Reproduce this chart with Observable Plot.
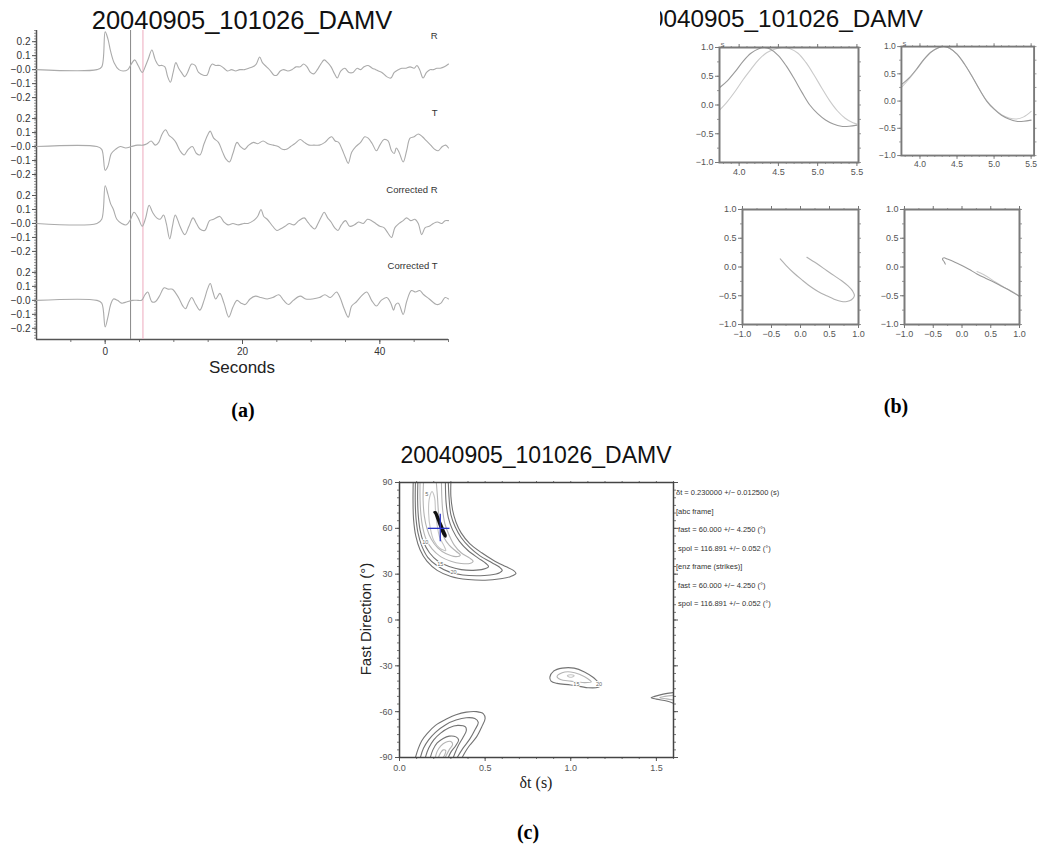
<!DOCTYPE html>
<html><head><meta charset="utf-8">
<script src="https://cdn.jsdelivr.net/npm/d3@7"></script>
<script src="https://cdn.jsdelivr.net/npm/@observablehq/plot@0.6"></script>
<style>
html,body{margin:0;padding:0;background:#fff;}
body{width:1045px;height:849px;overflow:hidden;position:relative;font-family:"Liberation Sans",Arial,sans-serif;}
.abs{position:absolute;}
.title{position:absolute;white-space:nowrap;color:#111;line-height:1;font-family:"Liberation Sans",Arial,sans-serif;}
.plabel{position:absolute;font-family:"Liberation Serif","Times New Roman",serif;font-weight:bold;font-size:20px;line-height:1;transform:translate(-50%,-50%);color:#000;}
.stat{position:absolute;font-size:7.5px;color:#333;white-space:pre;line-height:1;}
</style></head><body>
<script>
// ---------------- DATA ----------------
const stationTitle = "20040905_101026_DAMV";
const traceNames = ["R", "T", "Corrected R", "Corrected T"];
const ampTickValues = [-0.2, -0.1, 0, 0.1, 0.2];
const ampTickLabels = ["−0.2", "−0.1", "−0.0", "0.1", "0.2"];
const secondsTicks = [0, 20, 40];
const pickTimes = [3.7, 5.5];

const traceR = [[-10,0],[-1.2,0],[-0.5,0.02],[0,0.27],[0.4,0.22],[0.8,0.13],[1.3,0.05],[2.0,0.0],[2.6,-0.01],[3.3,0.0],[3.8,0.04],[4.3,0.07],[4.8,0.03],[5.4,-0.02],[5.9,0.03],[6.3,0.08],[6.8,0.14],[7.3,0.07],[7.8,0.03],[8.3,0.03],[8.7,0.02],[9.1,-0.05],[9.5,-0.09],[9.9,-0.02],[10.3,0.05],[10.7,0.01],[11.1,-0.02],[11.6,-0.05],[12.0,-0.02],[12.6,0.04],[13.1,0.03],[13.6,-0.02],[14.3,-0.04],[14.8,-0.04],[15.3,0.02],[15.6,0.04],[16.1,0.03],[16.7,0.03],[17.3,0.01],[17.8,-0.01],[18.4,0.0],[19.0,-0.01],[19.6,0.0],[20.3,0.0],[20.9,0.01],[21.5,0.02],[22.0,0.04],[22.5,0.09],[22.9,0.05],[23.5,0.02],[24.1,-0.01],[24.6,-0.04],[25.0,-0.04],[25.5,-0.01],[26.0,0.0],[26.6,-0.01],[27.2,0.0],[27.8,0.02],[28.4,0.02],[28.9,0.04],[29.4,0.02],[29.9,-0.02],[30.4,-0.03],[30.9,0.0],[31.4,0.04],[31.9,0.07],[32.4,0.05],[32.9,0.02],[33.4,-0.03],[33.8,-0.06],[34.3,-0.01],[34.9,0.01],[35.5,-0.02],[36.1,-0.02],[36.7,0.01],[37.2,0.0],[37.7,0.02],[38.3,0.03],[38.9,0.01],[39.4,0.0],[39.8,-0.01],[40.3,-0.02],[41.0,-0.05],[41.6,-0.06],[42.1,-0.02],[42.7,0.0],[43.2,0.01],[43.8,0.01],[44.4,0.02],[45.0,0.01],[45.4,0.03],[45.8,0.0],[46.3,-0.06],[46.8,-0.02],[47.3,0.0],[47.8,0.0],[48.3,0.01],[48.8,0.01],[49.4,0.02],[50,0.04]];
const traceT = [[-10,0],[-1.2,0],[-0.5,-0.02],[0,-0.17],[0.4,-0.14],[0.9,-0.05],[1.5,-0.02],[2.2,0],[3,-0.01],[3.8,0],[4.7,0.01],[5.5,0.01],[6.1,0.02],[6.7,0.04],[7.3,0.01],[7.8,0.03],[8.3,0.09],[8.8,0.12],[9.3,0.08],[9.8,0.06],[10.3,0.03],[10.9,-0.03],[11.5,-0.06],[12.1,-0.02],[12.7,0.0],[13.3,-0.05],[13.8,-0.06],[14.4,0.02],[15.0,0.09],[15.3,0.11],[15.8,0.06],[16.5,0.03],[17.1,-0.04],[17.6,-0.09],[18.1,-0.11],[18.6,-0.05],[19.2,0.03],[19.7,0.0],[20.3,-0.02],[20.9,0.01],[21.6,0.03],[22.2,0.02],[23.0,0.04],[23.7,0.02],[24.5,0.01],[25.2,0.0],[25.8,-0.02],[26.4,-0.02],[27.0,0.0],[27.6,0.02],[28.4,0.05],[29.0,0.03],[29.7,0.01],[30.4,0.01],[31.2,0.01],[32.0,0.03],[32.6,0.06],[33.0,0.07],[33.5,0.04],[34.0,0.03],[34.5,-0.02],[35.0,-0.08],[35.4,-0.12],[35.9,-0.04],[36.5,0.0],[37.2,0.03],[37.8,0.07],[38.3,0.06],[38.9,0.02],[39.5,-0.03],[40.0,0.01],[40.6,0.05],[41.2,0.04],[41.7,-0.03],[42.1,-0.05],[42.4,-0.01],[42.8,-0.04],[43.4,-0.11],[43.9,-0.03],[44.4,0.06],[45.0,0.07],[45.6,0.09],[46.2,0.07],[46.8,0.04],[47.4,0.01],[48.0,-0.02],[48.5,-0.03],[49.1,0.0],[49.6,0.01],[50,-0.01]];
const traceCorrR = [[-10,0],[-1.2,0],[-0.5,0.03],[0,0.27],[0.4,0.21],[0.8,0.14],[1.2,0.1],[1.7,0.03],[2.4,0.0],[3.1,-0.01],[3.7,0.03],[4.2,0.08],[4.8,0.04],[5.4,-0.02],[5.9,0.04],[6.4,0.13],[6.9,0.08],[7.5,0.04],[8.0,0.03],[8.5,0.06],[8.9,0.0],[9.4,-0.11],[9.8,-0.02],[10.2,0.06],[10.6,0.02],[10.9,-0.02],[11.6,-0.08],[12.2,-0.02],[12.8,0.04],[13.3,0.0],[13.8,-0.04],[14.5,-0.05],[15.2,0.02],[15.8,0.03],[16.7,0.05],[17.3,0.01],[17.9,-0.01],[18.6,0.0],[19.4,-0.01],[20.2,0.0],[20.8,0.0],[21.6,0.02],[22.2,0.05],[22.7,0.10],[23.1,0.05],[23.6,0.03],[24.4,-0.02],[25.0,-0.05],[25.5,-0.04],[26.2,-0.02],[26.8,0.0],[27.5,-0.01],[28.2,0.02],[29.0,0.04],[29.5,0.01],[30.0,-0.02],[30.5,-0.04],[31.0,0.0],[31.5,0.05],[31.9,0.08],[32.4,0.04],[32.9,0.01],[33.4,-0.03],[33.9,-0.05],[34.4,-0.01],[35.0,0.02],[35.6,-0.02],[36.3,-0.01],[36.9,0.01],[37.6,0.0],[38.2,0.03],[38.8,0.02],[39.4,0.0],[40.0,-0.02],[40.6,-0.03],[41.2,-0.07],[41.7,-0.10],[42.2,-0.03],[42.8,0.0],[43.4,0.02],[43.9,0.04],[44.5,0.02],[45.1,0.03],[45.6,0.0],[46.1,-0.08],[46.6,-0.03],[47.2,-0.02],[47.8,0.0],[48.4,0.01],[49.0,0.0],[49.5,0.02],[50,0.02]];
const traceCorrT = [[-10,0],[-1.2,0],[-0.5,-0.02],[0,-0.19],[0.4,-0.12],[0.8,-0.03],[1.2,0.01],[1.8,0.0],[2.4,-0.02],[3.2,-0.01],[4.0,0.0],[4.8,0.0],[5.3,0.0],[5.8,0.04],[6.2,0.06],[6.8,-0.01],[7.3,-0.01],[7.9,0.03],[8.6,0.09],[9.2,0.08],[9.8,0.08],[10.3,0.05],[10.8,0.01],[11.3,-0.04],[11.7,-0.06],[12.2,-0.01],[12.6,0.02],[13.2,-0.03],[13.8,-0.07],[14.4,0.0],[14.9,0.08],[15.3,0.12],[15.7,0.06],[16.1,0.01],[16.7,0.05],[17.3,-0.02],[18.0,-0.12],[18.6,-0.05],[19.2,0.0],[19.8,-0.02],[20.4,-0.03],[21.1,0.01],[21.9,0.03],[22.7,0.02],[23.6,0.01],[24.4,0.02],[25.3,0.04],[26.0,0.0],[26.7,-0.03],[27.4,0.0],[28.4,0.03],[29.2,0.01],[30.2,0.01],[31.2,0.02],[32.0,0.04],[32.8,0.02],[33.7,0.06],[34.2,0.02],[34.8,-0.06],[35.4,-0.12],[35.9,-0.04],[36.6,-0.01],[37.3,0.03],[38.1,0.06],[38.8,0.0],[39.5,-0.04],[40.2,0.0],[41.0,0.02],[41.6,-0.02],[42.0,-0.07],[42.3,-0.03],[42.7,-0.02],[43.4,-0.1],[43.9,-0.01],[44.6,0.07],[45.2,0.06],[45.8,0.07],[46.4,0.04],[47.2,0.01],[48.3,-0.03],[48.9,-0.02],[49.5,0.02],[50,0.01]];

// panel (b) waveforms (time s, normalised amplitude)
const waveFastTL = [[3.75,0.30],[3.85,0.42],[3.95,0.58],[4.05,0.76],[4.15,0.90],[4.25,0.98],[4.32,1.0],[4.4,0.97],[4.5,0.86],[4.6,0.68],[4.7,0.46],[4.8,0.22],[4.9,0.0],[5.0,-0.15],[5.1,-0.26],[5.2,-0.33],[5.3,-0.37],[5.4,-0.37],[5.5,-0.35]];
const waveSlowTL = [[3.75,-0.09],[3.85,0.06],[3.95,0.24],[4.05,0.44],[4.15,0.62],[4.25,0.79],[4.35,0.91],[4.45,0.97],[4.55,1.0],[4.65,0.98],[4.75,0.90],[4.85,0.74],[4.95,0.53],[5.05,0.30],[5.15,0.08],[5.25,-0.10],[5.35,-0.23],[5.45,-0.31],[5.5,-0.33]];
const waveFastTR = [[3.75,0.30],[3.85,0.42],[3.95,0.58],[4.05,0.76],[4.15,0.90],[4.25,0.98],[4.32,1.0],[4.4,0.97],[4.5,0.86],[4.6,0.68],[4.7,0.46],[4.8,0.22],[4.9,0.0],[5.0,-0.15],[5.1,-0.26],[5.2,-0.33],[5.3,-0.37],[5.4,-0.37],[5.5,-0.35]];
const waveSlowTR = [[3.75,0.25],[3.85,0.40],[3.95,0.57],[4.05,0.75],[4.15,0.90],[4.25,0.98],[4.33,1.0],[4.4,0.97],[4.5,0.86],[4.6,0.68],[4.7,0.46],[4.8,0.22],[4.9,0.01],[5.0,-0.14],[5.1,-0.25],[5.2,-0.31],[5.3,-0.33],[5.4,-0.29],[5.5,-0.19]];
// particle motion (x, y)
const motionBefore = [[-0.35,0.14],[-0.25,0.03],[-0.12,-0.1],[0.02,-0.22],[0.17,-0.34],[0.31,-0.43],[0.45,-0.5],[0.58,-0.56],[0.71,-0.6],[0.80,-0.6],[0.88,-0.57],[0.93,-0.5],[0.90,-0.42],[0.82,-0.33],[0.71,-0.24],[0.58,-0.15],[0.45,-0.06],[0.28,0.06],[0.11,0.17]];
const motionAfterA = [[-0.29,0.05],[-0.31,0.09],[-0.34,0.14],[-0.31,0.16],[-0.26,0.14],[-0.14,0.09],[-0.03,0.04],[0.12,-0.04],[0.26,-0.12],[0.40,-0.19],[0.55,-0.26],[0.70,-0.34],[0.85,-0.42],[1.0,-0.51]];
const motionAfterB = [[1.0,-0.51],[0.88,-0.43],[0.73,-0.35],[0.58,-0.26],[0.44,-0.17],[0.33,-0.11],[0.26,-0.08]];
const bTimeTicks = [4.0, 4.5, 5.0, 5.5];
const bAmpTicks = [-1.0, -0.5, 0.0, 0.5, 1.0];
const pmTicks = [-1.0, -0.5, 0.0, 0.5, 1.0];

// panel (c) grid search contours (δt s, fast direction °)
const contourA1 = [[0.080,90],[0.079,78],[0.082,66],[0.095,55],[0.12,46],[0.16,38.5],[0.22,32.5],[0.30,28.5],[0.40,26.5],[0.50,26],[0.59,27],[0.65,28.5],[0.68,30.5],[0.665,32.5],[0.62,35],[0.55,39],[0.48,44],[0.41,50],[0.36,57],[0.33,64],[0.31,72],[0.30,81],[0.30,90]];
const contourA2 = [[0.093,90],[0.092,78],[0.096,67],[0.108,57],[0.13,48.5],[0.165,41],[0.22,35.5],[0.29,31.5],[0.37,29.5],[0.45,29],[0.53,29.5],[0.585,31],[0.60,32.5],[0.585,34.5],[0.54,37.5],[0.47,42],[0.41,47.5],[0.36,54],[0.325,61],[0.30,69],[0.29,79],[0.285,90]];
const contourA3 = [[0.107,90],[0.106,78],[0.11,68],[0.12,59],[0.14,51],[0.175,44],[0.225,38.5],[0.29,35],[0.36,33],[0.43,32.5],[0.49,33.3],[0.52,35],[0.505,37],[0.46,40.5],[0.40,45.5],[0.35,51.5],[0.31,59],[0.285,67],[0.272,77],[0.268,90]];
const contourA4 = [[0.12,90],[0.12,79],[0.125,69],[0.135,61],[0.155,53],[0.19,46.5],[0.24,41.5],[0.30,38.5],[0.36,37],[0.41,37],[0.43,38.5],[0.41,40.5],[0.36,44],[0.32,49],[0.29,55.5],[0.265,63],[0.252,72],[0.247,81],[0.245,90]];
const contourA5 = [[0.14,90],[0.138,78],[0.145,68],[0.16,60],[0.185,53],[0.225,47],[0.27,43.5],[0.33,41.5],[0.355,42.5],[0.33,45],[0.29,49],[0.26,54],[0.24,61],[0.228,70],[0.222,80],[0.215,90]];
const contourA6 = [[0.175,80],[0.17,70],[0.18,60],[0.20,52],[0.235,47],[0.27,45.5],[0.26,48.5],[0.235,54],[0.22,62],[0.21,72],[0.205,80],[0.19,84]];
const contourB1 = [[0.093,-90],[0.11,-84],[0.13,-79],[0.16,-74.5],[0.21,-69],[0.277,-64.7],[0.33,-62],[0.39,-60.3],[0.45,-60],[0.49,-61.4],[0.50,-64.5],[0.48,-70],[0.45,-76.5],[0.41,-82],[0.39,-85.3],[0.366,-90]];
const contourB2 = [[0.122,-90],[0.14,-84],[0.17,-78.5],[0.21,-73.5],[0.27,-68.5],[0.33,-65.5],[0.39,-64],[0.44,-64.5],[0.46,-67],[0.44,-72],[0.41,-78],[0.37,-84],[0.337,-90]];
const contourB3 = [[0.151,-90],[0.17,-84],[0.20,-78.5],[0.24,-74],[0.29,-70.5],[0.34,-69],[0.385,-70],[0.39,-72.5],[0.37,-77],[0.34,-83],[0.314,-90]];
const contourB4 = [[0.18,-90],[0.195,-85],[0.22,-80.5],[0.255,-77.5],[0.29,-76],[0.33,-76.5],[0.345,-78.5],[0.33,-82],[0.30,-86.5],[0.285,-90]];
const contourB5 = [[0.209,-90],[0.22,-86],[0.24,-82.5],[0.27,-80],[0.30,-79.5],[0.31,-81.5],[0.29,-85],[0.267,-90]];
const contourB6 = [[0.227,-90],[0.24,-87],[0.255,-85],[0.27,-85.5],[0.265,-88],[0.255,-90]];
const contourC1 = [[0.878,-37.4],[0.9,-33.5],[0.95,-31.5],[1.02,-31.5],[1.08,-34],[1.13,-37.5],[1.16,-40.5],[1.18,-42],[1.16,-44],[1.1,-44.3],[1.0,-42.5],[0.92,-41.5],[0.885,-40]];
const contourC2 = [[0.92,-37],[0.95,-34.5],[1.0,-34],[1.05,-35.5],[1.1,-38.5],[1.12,-40.5],[1.08,-41],[1.0,-40],[0.94,-39]];
const contourC3 = [[0.98,-36.5],[1.0,-35.8],[1.02,-36.5],[1.0,-37.5]];
const contourD1 = [[1.6,-47.5],[1.54,-48.5],[1.49,-50],[1.47,-50.8],[1.5,-51.8],[1.56,-53],[1.6,-54.5]];
const contourD2 = [[1.6,-49.3],[1.55,-50],[1.52,-50.8],[1.56,-51.6],[1.6,-52.3]];
const confidenceRegion = [[0.203,70.5],[0.209,69.8],[0.222,66],[0.24,60.5],[0.255,56.5],[0.267,54.5],[0.27,55.5],[0.26,58],[0.245,62],[0.228,66.5],[0.212,70.5]];
const bestDt = 0.238, bestFast = 60;
const crossDt = [0.165, 0.292];
const crossFast = [51.6, 69.5];
const contourLabelText = ["20", "15", "10", "5", "15", "20"];
const contourLabelDt = [0.316, 0.238, 0.151, 0.16, 1.033, 1.165];
const contourLabelFast = [31.3, 36.8, 50.9, 82, -42.3, -41.8];
const fastTicks = [-90, -60, -30, 0, 30, 60, 90];
const dtTicks = [0.0, 0.5, 1.0, 1.5];
const statsLines = ["δt = 0.230000 +/− 0.012500 (s)", "[abc frame]", " fast = 60.000 +/− 4.250 (°)", " spol = 116.891 +/− 0.052 (°)", "[enz frame (strikes)]", " fast = 60.000 +/− 4.250 (°)", " spol = 116.891 +/− 0.052 (°)"];

// ---------------- LAYOUT / DRAW ----------------
const FONT = "Liberation Sans, Arial, Helvetica, sans-serif";
function place(el, left, top) {
  const d = document.createElement("div");
  d.className = "abs"; d.style.left = left + "px"; d.style.top = top + "px";
  d.appendChild(el); document.body.appendChild(d); return d;
}
function htmlText(txt, cls, left, top, extra) {
  const d = document.createElement("div");
  d.className = cls; d.textContent = txt;
  d.style.left = left + "px"; d.style.top = top + "px";
  Object.assign(d.style, extra || {});
  document.body.appendChild(d); return d;
}
const blank = () => "";
const openCurve = c => (Math.abs(c[0][1]) >= 90 || c[0][0] >= 1.6) ? "catmull-rom" : "catmull-rom-closed";

// ---- panel (a)
const traceOffsets = [0, -0.55, -1.10, -1.65];
const traces = [traceR, traceT, traceCorrR, traceCorrT];
const yMajor = [], yMap = new Map();
traceOffsets.forEach(o => ampTickValues.forEach((v, i) => {
  const p = +(o + v).toFixed(4); yMajor.push(p); yMap.set(p.toFixed(3), ampTickLabels[i]);
}));
const yA = [-1.93, 0.28];
const chartA = Plot.plot({
  width: 460, height: 380, marginLeft: 36, marginRight: 12, marginTop: 30, marginBottom: 41,
  style: {fontFamily: FONT, fontSize: "10px", color: "#333", background: "transparent", overflow: "visible"},
  x: {domain: [-10, 50]},
  y: {domain: yA},
  marks: [
    Plot.axisY(d3.range(-1.92, 0.281, 0.02), {tickSize: 2, tickFormat: blank, label: null, stroke: "#999"}),
    Plot.axisY(yMajor, {tickSize: 4, tickPadding: 2, tickFormat: d => yMap.get(d.toFixed(3)), label: null, stroke: "#555"}),
    Plot.axisX(d3.range(-5, 50.1, 5), {tickSize: 3, tickFormat: blank, label: null, stroke: "#777"}),
    Plot.axisX(secondsTicks, {tickSize: 5, tickPadding: 3, label: null, stroke: "#555"}),
    Plot.ruleX([-10], {stroke: "#555", strokeWidth: 1.5}),
    Plot.ruleY([yA[0]], {stroke: "#555", strokeWidth: 1.5}),
    Plot.ruleX([pickTimes[0]], {stroke: "#888", strokeWidth: 1}),
    Plot.ruleX([pickTimes[1]], {stroke: "#f0b8c8", strokeWidth: 1.2}),
    ...traces.map((tr, i) => Plot.line(tr, {x: d => d[0], y: d => d[1] + traceOffsets[i], stroke: "#ababab", strokeWidth: 1.1, curve: "catmull-rom"})),
    Plot.text(traceNames, {x: 48.4, y: (d, i) => traceOffsets[i] + 0.243, text: d => d, textAnchor: "end", fontSize: 9.5, fill: "#333"})
  ]
});
place(chartA, 0, 0);
htmlText(stationTitle, "title", 0, 8.4, {fontSize: "25.5px", width: "484px", textAlign: "center"});
htmlText("Seconds", "title", 0, 359, {fontSize: "17px", width: "484px", textAlign: "center", color: "#222"});
htmlText("(a)", "plabel", 243, 410);

// ---- panel (b)
function smallPanel(o) {
  const w = o.ml + o.w + 12, h = o.mt + o.h + 22;
  return Plot.plot({
    width: w, height: h, marginLeft: o.ml, marginRight: 12, marginTop: o.mt, marginBottom: 22,
    style: {fontFamily: FONT, fontSize: "9px", color: "#555", background: "transparent", overflow: "visible"},
    x: {domain: o.xDomain}, y: {domain: [-1, 1]},
    marks: [
      Plot.axisX(o.xMinor, {tickSize: 2, tickFormat: blank, label: null, stroke: "#999"}),
      Plot.axisX(o.xMinor, {anchor: "top", tickSize: 2, tickFormat: blank, label: null, stroke: "#999"}),
      Plot.axisX(o.xMajor, {tickSize: 4, tickPadding: 2, tickFormat: d3.format(".1f"), label: null, stroke: "#777"}),
      Plot.axisX(o.xMajor, {anchor: "top", tickSize: 4, tickFormat: blank, label: null, stroke: "#777"}),
      Plot.axisY(d3.range(-1, 1.001, 0.25), {tickSize: 2, tickFormat: blank, label: null, stroke: "#999"}),
      Plot.axisY(d3.range(-1, 1.001, 0.25), {anchor: "right", tickSize: 2, tickFormat: blank, label: null, stroke: "#999"}),
      Plot.axisY(bAmpTicks, {tickSize: 4, tickPadding: 2, tickFormat: d3.format(".1f"), label: null, stroke: "#777"}),
      ...o.series.map(s => Plot.line(s.data, {x: d => d[0], y: d => d[1], stroke: s.color, strokeWidth: 1.1, curve: "catmull-rom", clip: true})),
      Plot.frame({stroke: "#7a7a7a", strokeWidth: 2}),
      ...(o.sLabel ? [Plot.text(["S"], {frameAnchor: "top-left", dy: -5, dx: 1, fontSize: 6, fill: "#555"})] : [])
    ]
  });
}
const timeMinor = d3.range(3.8, 5.51, 0.1);
place(smallPanel({ml: 39, mt: 17, w: 139, h: 115, xDomain: [3.75, 5.52], xMajor: bTimeTicks, xMinor: timeMinor, sLabel: true,
  series: [{data: waveSlowTL, color: "#cacaca"}, {data: waveFastTL, color: "#9a9a9a"}]}), 680, 30);
place(smallPanel({ml: 39, mt: 17, w: 140, h: 115, xDomain: [3.75, 5.54], xMajor: bTimeTicks, xMinor: timeMinor, sLabel: true,
  series: [{data: waveSlowTR, color: "#cacaca"}, {data: waveFastTR, color: "#9a9a9a"}]}), 864, 30);
place(smallPanel({ml: 42, mt: 19, w: 116, h: 115, xDomain: [-1, 1], xMajor: pmTicks, xMinor: d3.range(-1, 1.001, 0.25),
  series: [{data: motionBefore, color: "#b0b0b0"}]}), 700, 190);
place(smallPanel({ml: 42, mt: 19, w: 115, h: 115, xDomain: [-1, 1], xMajor: pmTicks, xMinor: d3.range(-1, 1.001, 0.25),
  series: [{data: motionAfterB, color: "#cacaca"}, {data: motionAfterA, color: "#999"}]}), 862, 190);
// title of panel (b): its left end is cut by the panel edge, as in the original
const clipBox = document.createElement("div");
clipBox.style.cssText = "position:absolute;left:660px;top:0;width:385px;height:40px;overflow:hidden;";
const t2 = document.createElement("div");
t2.className = "title"; t2.textContent = stationTitle;
t2.style.left = "-23.5px"; t2.style.top = "6.7px"; t2.style.fontSize = "24.3px";
clipBox.appendChild(t2); document.body.appendChild(clipBox);
htmlText("(b)", "plabel", 896, 406);

// ---- panel (c)
const darkContours = [contourA1, contourA2, contourA3, contourB1, contourB2, contourB3, contourB4, contourC1, contourD1];
const lightContours = [contourA4, contourA5, contourB5, contourB6, contourC2, contourD2];
const closedLight = [contourA6, contourC3];
const chartC = Plot.plot({
  width: 339, height: 312, marginLeft: 59, marginRight: 6, marginTop: 12, marginBottom: 25,
  style: {fontFamily: FONT, fontSize: "9px", color: "#555", background: "transparent", overflow: "visible"},
  x: {domain: [0, 1.6]}, y: {domain: [-90, 90]},
  marks: [
    Plot.axisY(d3.range(-90, 90.1, 5), {tickSize: 2, tickFormat: blank, label: null, stroke: "#777"}),
    Plot.axisY(d3.range(-90, 90.1, 5), {anchor: "right", tickSize: 2, tickFormat: blank, label: null, stroke: "#777"}),
    Plot.axisY(fastTicks, {tickSize: 4, tickPadding: 3, tickFormat: d => String(d), label: null, stroke: "#555"}),
    Plot.axisY(fastTicks, {anchor: "right", tickSize: 4, tickFormat: blank, label: null, stroke: "#555"}),
    Plot.axisX(d3.range(0, 1.601, 0.1), {tickSize: 2, tickFormat: blank, label: null, stroke: "#777"}),
    Plot.axisX(d3.range(0, 1.601, 0.1), {anchor: "top", tickSize: 2, tickFormat: blank, label: null, stroke: "#777"}),
    Plot.axisX(dtTicks, {tickSize: 4, tickPadding: 3, tickFormat: d3.format(".1f"), label: null, stroke: "#555"}),
    ...darkContours.map(c => Plot.line(c, {x: d => d[0], y: d => d[1], stroke: "#737373", strokeWidth: 1.1, curve: openCurve(c), clip: true})),
    ...lightContours.map(c => Plot.line(c, {x: d => d[0], y: d => d[1], stroke: "#b4b4b4", strokeWidth: 1.1, curve: openCurve(c), clip: true})),
    ...closedLight.map(c => Plot.line(c, {x: d => d[0], y: d => d[1], stroke: "#c4c4c4", strokeWidth: 1.1, curve: "catmull-rom-closed", clip: true})),
    Plot.line(confidenceRegion, {x: d => d[0], y: d => d[1], stroke: "#111", strokeWidth: 2.2, curve: "catmull-rom-closed"}),
    Plot.link([0], {x1: crossDt[0], x2: crossDt[1], y1: bestFast, y2: bestFast, stroke: "#2a35c8", strokeWidth: 1.3}),
    Plot.link([0], {x1: bestDt, x2: bestDt, y1: crossFast[0], y2: crossFast[1], stroke: "#2a35c8", strokeWidth: 1.3}),
    Plot.text(contourLabelText, {x: (d, i) => contourLabelDt[i], y: (d, i) => contourLabelFast[i], text: d => d, fontSize: 5.5, fill: "#666", stroke: "white", strokeWidth: 2, paintOrder: "stroke"}),
    Plot.frame({stroke: "#444", strokeWidth: 1.5})
  ]
});
place(chartC, 340, 470);
htmlText(stationTitle, "title", 336, 443.8, {fontSize: "23px", width: "400px", textAlign: "center"});
htmlText("δt (s)", "title", 436, 775, {fontSize: "16px", width: "200px", textAlign: "center", color: "#222", fontFamily: "'Liberation Serif', 'Times New Roman', serif"});
htmlText("Fast Direction (°)", "title", 365, 619, {fontSize: "15px", color: "#222", transform: "translate(-50%,-50%) rotate(-90deg)"});
const statY = [493.3, 511.5, 530, 548.5, 567, 585.5, 604];
statsLines.forEach((s, i) => htmlText(s, "stat", 676, statY[i] - 4));
htmlText("(c)", "plabel", 528, 832);
</script>
</body></html>
